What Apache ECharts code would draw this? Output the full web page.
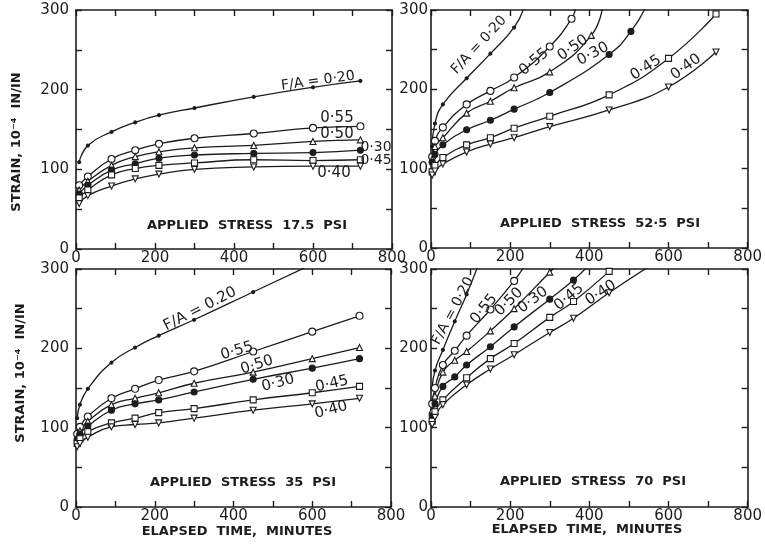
<!DOCTYPE html>
<html><head><meta charset="utf-8">
<script src="https://cdn.jsdelivr.net/npm/echarts@6/dist/echarts.min.js"></script>
<style>html,body{margin:0;padding:0;background:#fff}#c{width:765px;height:545px}</style>
</head><body><div id="c"></div>
<script>
// ---- tick labels / text ----
const X_TICK_LABELS = [0, 200, 400, 600, 800];
const Y_TICK_LABELS = [0, 100, 200, 300];
const FA_NAMES = ['0.20', '0.55', '0.50', '0.30', '0.45', '0.40'];
const PANEL_TITLES = ['APPLIED  STRESS  17.5  PSI', 'APPLIED  STRESS  52·5  PSI', 'APPLIED  STRESS  35  PSI', 'APPLIED  STRESS  70  PSI'];
const Y_NAME = 'STRAIN, 10⁻⁴  IN/IN';
const X_NAME = 'ELAPSED  TIME,  MINUTES';

// ---- data: [elapsed time (min), strain (1e-4 in/in)] ----
// Applied stress 17.5 psi
const S175_F020 = [[8,109],[30,130],[90,147],[150,159],[210,168],[300,177],[450,191],[600,203],[720,211]];
const S175_F055 = [[8,80],[30,91],[90,113],[150,124],[210,132],[300,139],[450,145],[600,152],[720,154]];
const S175_F050 = [[8,74],[30,85],[90,105],[150,116],[210,122],[300,127],[450,130],[600,135],[720,137]];
const S175_F030 = [[8,69],[30,80],[90,99],[150,107],[210,114],[300,118],[450,120],[600,121],[720,124]];
const S175_F045 = [[8,64],[30,74],[90,93],[150,101],[210,105],[300,108],[450,112],[600,111],[720,112]];
const S175_F040 = [[8,57],[30,67],[90,79],[150,88],[210,94],[300,100],[450,103],[600,104],[720,104]];
// Applied stress 52.5 psi
const S525_F020 = [[3,128],[10,157],[30,181],[90,214],[150,245],[210,278],[235,303]];
const S525_F055 = [[3,115],[10,135],[30,152],[90,181],[150,198],[210,215],[300,254],[355,289],[366,303]];
const S525_F050 = [[3,112],[10,128],[30,139],[90,170],[150,185],[210,202],[300,222],[405,268],[433,303]];
const S525_F030 = [[3,108],[10,118],[30,130],[90,149],[150,161],[210,175],[300,196],[450,244],[505,273],[542,303]];
const S525_F045 = [[3,96],[10,104],[30,114],[90,130],[150,139],[210,151],[300,166],[450,193],[600,239],[720,295]];
const S525_F040 = [[3,92],[10,97],[30,106],[90,121],[150,131],[210,139],[300,153],[450,174],[600,203],[720,247]];
// Applied stress 35 psi
const S35_F020 = [[3,112],[10,129],[30,149],[90,182],[150,201],[210,216],[300,236],[450,271],[600,306]];
const S35_F055 = [[3,92],[10,101],[30,114],[90,137],[150,149],[210,160],[300,171],[450,196],[600,221],[720,241]];
const S35_F050 = [[3,88],[10,96],[30,108],[90,129],[150,137],[210,144],[300,156],[450,170],[600,187],[720,201]];
const S35_F030 = [[3,85],[10,92],[30,102],[90,122],[150,130],[210,135],[300,145],[450,161],[600,175],[720,187]];
const S35_F045 = [[3,80],[10,86],[30,95],[90,106],[150,112],[210,119],[300,124],[450,135],[600,144],[720,152]];
const S35_F040 = [[3,76],[10,80],[30,88],[90,101],[150,104],[210,106],[300,112],[450,122],[600,130],[720,137]];
// Applied stress 70 psi
const S70_F020 = [[3,150],[10,172],[30,198],[60,234],[90,268],[118,303]];
const S70_F055 = [[3,130],[10,150],[30,179],[60,197],[90,216],[150,249],[210,285],[235,303]];
const S70_F050 = [[3,122],[10,140],[30,170],[60,185],[90,196],[150,222],[210,250],[300,296],[315,303]];
const S70_F030 = [[3,115],[10,130],[30,152],[60,164],[90,179],[150,202],[210,227],[300,262],[360,286],[395,303]];
const S70_F045 = [[3,108],[10,120],[30,135],[90,163],[150,187],[210,206],[300,239],[360,259],[450,297],[458,303]];
const S70_F040 = [[3,104],[10,113],[30,129],[90,154],[150,174],[210,192],[300,220],[360,238],[450,270],[550,303]];

const PANELS = [
  [S175_F020, S175_F055, S175_F050, S175_F030, S175_F045, S175_F040],
  [S525_F020, S525_F055, S525_F050, S525_F030, S525_F045, S525_F040],
  [S35_F020, S35_F055, S35_F050, S35_F030, S35_F045, S35_F040],
  [S70_F020, S70_F055, S70_F050, S70_F030, S70_F045, S70_F040]
];

// ---- styling ----
const INK = '#1c1c1c';
const FONT = 'DejaVu Sans';
const GRIDS = [
  {left: 76, top: 10, width: 316, height: 239},
  {left: 431, top: 10, width: 317, height: 238},
  {left: 76, top: 269, width: 315, height: 238},
  {left: 431, top: 269, width: 317, height: 238}
];
const MARKERS = [
  {symbol: 'circle', size: 3, fill: INK, rot: 0},
  {symbol: 'circle', size: 7, fill: '#fff', rot: 0},
  {symbol: 'triangle', size: 6, fill: '#fff', rot: 0},
  {symbol: 'circle', size: 6, fill: INK, rot: 0},
  {symbol: 'rect', size: 6, fill: '#fff', rot: 0},
  {symbol: 'triangle', size: 6, fill: '#fff', rot: 180}
];

const axisLine = {show: true, onZero: false, lineStyle: {color: INK, width: 1.6}};
const tick = {show: true, inside: true, length: 6, lineStyle: {color: INK, width: 1.4}};
const xAxes = [], yAxes = [], series = [];
GRIDS.forEach((g, i) => {
  const isLeft = (i % 2 === 0);
  xAxes.push({gridIndex: i, type: 'value', min: 0, max: 800, interval: 100, position: 'bottom',
    axisLine, axisTick: tick, splitLine: {show: false},
    axisLabel: {margin: 2, fontSize: 15, color: INK, fontFamily: FONT,
      formatter: v => X_TICK_LABELS.includes(v) ? String(v) : ''}});
  xAxes.push({gridIndex: i, type: 'value', min: 0, max: 800, interval: 100, position: 'top',
    axisLine, axisTick: tick, splitLine: {show: false}, axisLabel: {show: false}});
  yAxes.push({gridIndex: i, type: 'value', min: 0, max: 300, interval: 50, position: 'left',
    axisLine, axisTick: tick, splitLine: {show: false},
    axisLabel: {margin: isLeft ? 7 : 3, fontSize: 15, color: INK, fontFamily: FONT,
      formatter: v => Y_TICK_LABELS.includes(v) ? String(v) : ''}});
  yAxes.push({gridIndex: i, type: 'value', min: 0, max: 300, interval: 50, position: 'right',
    axisLine, axisTick: tick, splitLine: {show: false}, axisLabel: {show: false}});
  PANELS[i].forEach((pts, k) => {
    const m = MARKERS[k];
    series.push({
      type: 'line', name: 'F/A ' + FA_NAMES[k], xAxisIndex: i * 2, yAxisIndex: i * 2,
      smooth: 0.5, clip: true,
      symbol: m.symbol, symbolSize: m.size, symbolRotate: m.rot,
      lineStyle: {color: INK, width: 1.3},
      itemStyle: {color: m.fill, borderColor: INK, borderWidth: 1.1},
      data: pts.map(p => p[1] > 300 ? {value: p, symbol: 'none'} : p),
      z: 3
    });
  });
});

function txt(x, y, text, deg, size, bold) {
  return {type: 'text', x, y, rotation: (deg || 0) * Math.PI / 180, z: 10,
    style: {text, fill: INK, fontSize: size || 13, fontFamily: FONT, fontWeight: bold ? 'bold' : 'normal',
      align: 'center', verticalAlign: 'middle', textAlign: 'center', textVerticalAlign: 'middle'}};
}
const graphics = [
  // panel titles
  txt(247, 226, PANEL_TITLES[0], 0, 13, true), txt(600, 224, PANEL_TITLES[1], 0, 13, true),
  txt(243, 483, PANEL_TITLES[2], 0, 13, true), txt(593, 482, PANEL_TITLES[3], 0, 13, true),
  // axis names
  txt(17, 142, Y_NAME, 90, 13, true), txt(21, 373, Y_NAME, 90, 13, true),
  txt(237, 532, X_NAME, 0, 13, true), txt(587, 530, X_NAME, 0, 13, true),
  // curve labels 17.5 psi
  txt(318, 81, 'F/A = 0·20', 8, 14), txt(337, 118, '0·55', 0, 15), txt(337, 134, '0·50', 0, 15),
  txt(376, 147, '0·30', 0, 14), txt(376, 160, '0·45', 0, 14), txt(334, 173, '0·40', 0, 15),
  // 52.5 psi
  txt(479, 45, 'F/A = 0·20', 47, 14), txt(534, 62, '0·55', 40, 15), txt(573, 48, '0·50', 35, 15),
  txt(593, 54, '0·30', 28, 15), txt(646, 68, '0·45', 33, 15), txt(686, 67, '0·40', 36, 15),
  // 35 psi
  txt(200, 309, 'F/A = 0.20', 27, 15), txt(237, 351, '0·55', 17, 15), txt(257, 365, '0·50', 18, 15),
  txt(278, 383, '0·30', 15, 15), txt(332, 384, '0·45', 13, 15), txt(331, 410, '0·40', 15, 15),
  // 70 psi
  txt(453, 311, 'F/A = 0·20', 62, 14), txt(484, 309, '0·55', 51, 15), txt(509, 302, '0·50', 45, 15),
  txt(533, 300, '0·30', 37, 15), txt(569, 297, '0·45', 40, 15), txt(601, 293, '0·40', 33, 15)
];

const chart = echarts.init(document.getElementById('c'), null, {renderer: 'canvas'});
chart.setOption({
  backgroundColor: '#fff', animation: false,
  grid: GRIDS.map(g => Object.assign({containLabel: false}, g)),
  xAxis: xAxes, yAxis: yAxes, series, graphic: graphics
});
</script></body></html>
